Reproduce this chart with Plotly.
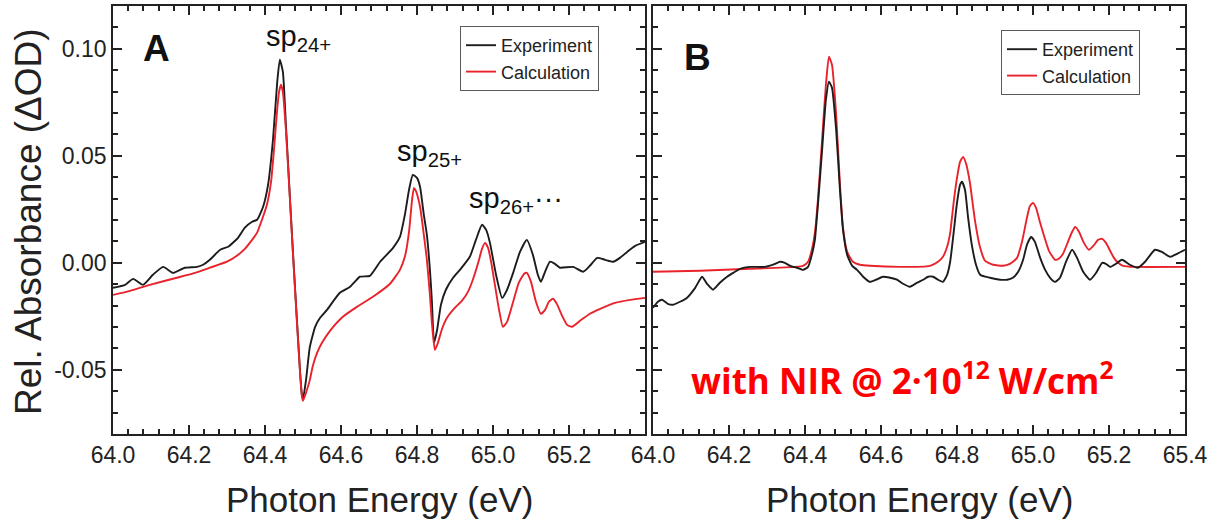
import plotly.graph_objects as go

W, H = 1213, 521
FONT = "Liberation Sans, Arial, sans-serif"
BLACK = "#1c1c1c"
RED = "#e8232b"
FRAME = "#222222"

# ---- Panel A: transient absorbance without NIR ----
energy_a_exp = [64.000, 64.032, 64.053, 64.079, 64.105, 64.132, 64.158, 64.189, 64.221, 64.237,
                64.255, 64.282, 64.303, 64.329, 64.347, 64.366, 64.379, 64.395, 64.408, 64.421,
                64.432, 64.439, 64.447, 64.455, 64.463, 64.474, 64.484, 64.492, 64.497, 64.500,
                64.508, 64.518, 64.532, 64.545, 64.563, 64.597, 64.624, 64.650, 64.676, 64.703,
                64.737, 64.755, 64.768, 64.779, 64.789, 64.800, 64.808, 64.818, 64.826, 64.834,
                64.839, 64.845, 64.853, 64.863, 64.876, 64.895, 64.913, 64.939, 64.955, 64.971,
                64.982, 64.992, 65.008, 65.024, 65.037, 65.053, 65.071, 65.089, 65.105, 65.118,
                65.126, 65.137, 65.150, 65.163, 65.176, 65.211, 65.237, 65.255, 65.274, 65.295,
                65.316, 65.334, 65.353, 65.374, 65.400]
dod_a_exp = [-0.0117, -0.0103, -0.0075, -0.0103, -0.0056, -0.0019, -0.0047, -0.0023, -0.0019, -0.0009,
             0.0014, 0.0061, 0.0075, 0.0117, 0.0164, 0.0192, 0.0201, 0.0262, 0.0364, 0.0575,
             0.0841, 0.0949, 0.0893, 0.0645, 0.0388, 0.0037, -0.0266, -0.0500, -0.0617, -0.0636,
             -0.0547, -0.0393, -0.0299, -0.0257, -0.0220, -0.0140, -0.0112, -0.0065, -0.0061, 0.0005,
             0.0070, 0.0121, 0.0224, 0.0341, 0.0411, 0.0397, 0.0355, 0.0224, 0.0131, -0.0033,
             -0.0173, -0.0374, -0.0313, -0.0196, -0.0126, -0.0070, -0.0033, 0.0028, 0.0107, 0.0178,
             0.0154, 0.0093, -0.0056, -0.0164, -0.0126, -0.0047, 0.0051, 0.0107, 0.0037, -0.0056,
             -0.0089, -0.0042, 0.0005, -0.0005, -0.0023, -0.0019, -0.0042, -0.0014, 0.0023, 0.0014,
             0.0005, 0.0023, 0.0051, 0.0079, 0.0098]

energy_a_calc = [64.000, 64.045, 64.097, 64.168, 64.216, 64.255, 64.300, 64.326, 64.347, 64.366,
                 64.379, 64.392, 64.405, 64.416, 64.424, 64.432, 64.437, 64.442, 64.447, 64.455,
                 64.463, 64.474, 64.484, 64.492, 64.497, 64.500, 64.508, 64.518, 64.526, 64.537,
                 64.550, 64.571, 64.605, 64.642, 64.684, 64.729, 64.755, 64.768, 64.779, 64.787,
                 64.792, 64.797, 64.808, 64.818, 64.826, 64.834, 64.839, 64.847, 64.855, 64.866,
                 64.879, 64.900, 64.918, 64.934, 64.947, 64.961, 64.971, 64.979, 64.987, 64.995,
                 65.005, 65.016, 65.026, 65.037, 65.053, 65.068, 65.082, 65.089, 65.100, 65.113,
                 65.126, 65.137, 65.147, 65.158, 65.168, 65.182, 65.195, 65.208, 65.229, 65.255,
                 65.282, 65.321, 65.361, 65.400]
dod_a_calc = [-0.0150, -0.0131, -0.0103, -0.0070, -0.0047, -0.0023, 0.0005, 0.0033, 0.0065, 0.0107,
              0.0140, 0.0201, 0.0271, 0.0379, 0.0537, 0.0715, 0.0799, 0.0832, 0.0799, 0.0621,
              0.0379, 0.0028, -0.0276, -0.0509, -0.0621, -0.0645, -0.0607, -0.0547, -0.0481, -0.0421,
              -0.0374, -0.0318, -0.0252, -0.0206, -0.0159, -0.0098, -0.0033, 0.0028, 0.0145, 0.0294,
              0.0350, 0.0336, 0.0262, 0.0131, 0.0014, -0.0150, -0.0276, -0.0407, -0.0374, -0.0308,
              -0.0257, -0.0210, -0.0178, -0.0136, -0.0079, 0.0000, 0.0065, 0.0093, 0.0070, 0.0005,
              -0.0103, -0.0220, -0.0299, -0.0276, -0.0182, -0.0093, -0.0051, -0.0047, -0.0089, -0.0182,
              -0.0238, -0.0220, -0.0182, -0.0168, -0.0192, -0.0248, -0.0290, -0.0299, -0.0271, -0.0238,
              -0.0215, -0.0187, -0.0173, -0.0164]

# ---- Panel B: transient absorbance with NIR ----
energy_b_exp = [64.000, 64.013, 64.024, 64.039, 64.053, 64.071, 64.089, 64.111, 64.129, 64.142,
                64.158, 64.176, 64.195, 64.211, 64.229, 64.255, 64.295, 64.321, 64.334, 64.347,
                64.361, 64.379, 64.395, 64.408, 64.418, 64.426, 64.434, 64.445, 64.455, 64.463,
                64.471, 64.482, 64.492, 64.500, 64.511, 64.524, 64.537, 64.553, 64.571, 64.587,
                64.605, 64.624, 64.642, 64.658, 64.676, 64.695, 64.711, 64.724, 64.737, 64.750,
                64.763, 64.774, 64.782, 64.792, 64.800, 64.808, 64.813, 64.821, 64.829, 64.839,
                64.850, 64.861, 64.874, 64.887, 64.913, 64.932, 64.947, 64.961, 64.974, 64.984,
                64.995, 65.005, 65.018, 65.032, 65.045, 65.058, 65.071, 65.087, 65.103, 65.116,
                65.132, 65.150, 65.166, 65.182, 65.192, 65.203, 65.218, 65.234, 65.255, 65.276,
                65.295, 65.321, 65.339, 65.361, 65.379, 65.400]
dod_b_exp = [-0.0210, -0.0182, -0.0173, -0.0192, -0.0196, -0.0182, -0.0164, -0.0117, -0.0065, -0.0098,
             -0.0126, -0.0093, -0.0065, -0.0047, -0.0028, -0.0019, -0.0019, -0.0005, 0.0005, 0.0000,
             -0.0014, -0.0023, -0.0033, -0.0019, 0.0037, 0.0107, 0.0271, 0.0528, 0.0762, 0.0846,
             0.0818, 0.0621, 0.0341, 0.0154, 0.0037, -0.0014, -0.0033, -0.0065, -0.0089, -0.0079,
             -0.0065, -0.0070, -0.0079, -0.0098, -0.0112, -0.0093, -0.0079, -0.0065, -0.0065, -0.0079,
             -0.0089, -0.0056, 0.0005, 0.0154, 0.0280, 0.0364, 0.0379, 0.0341, 0.0215, 0.0084,
             -0.0009, -0.0056, -0.0065, -0.0070, -0.0079, -0.0079, -0.0070, -0.0042, 0.0014, 0.0084,
             0.0121, 0.0098, 0.0028, -0.0033, -0.0070, -0.0089, -0.0070, 0.0005, 0.0061, 0.0023,
             -0.0042, -0.0079, -0.0047, 0.0000, -0.0005, -0.0019, -0.0005, 0.0014, -0.0009, -0.0023,
             0.0005, 0.0061, 0.0051, 0.0028, 0.0042, 0.0061]

energy_b_calc = [64.000, 64.124, 64.255, 64.374, 64.395, 64.408, 64.418, 64.426, 64.434, 64.445,
                 64.455, 64.463, 64.471, 64.482, 64.492, 64.500, 64.511, 64.526, 64.545, 64.571,
                 64.650, 64.729, 64.750, 64.763, 64.774, 64.782, 64.792, 64.800, 64.808, 64.816,
                 64.824, 64.834, 64.847, 64.861, 64.874, 64.895, 64.921, 64.939, 64.958, 64.971,
                 64.984, 64.992, 65.000, 65.008, 65.018, 65.029, 65.042, 65.058, 65.068, 65.079,
                 65.092, 65.103, 65.111, 65.121, 65.134, 65.147, 65.161, 65.171, 65.182, 65.192,
                 65.203, 65.213, 65.224, 65.237, 65.268, 65.400]
dod_b_calc = [-0.0042, -0.0037, -0.0028, -0.0019, -0.0014, 0.0005, 0.0061, 0.0140, 0.0294, 0.0575,
              0.0832, 0.0963, 0.0925, 0.0692, 0.0364, 0.0164, 0.0051, 0.0005, -0.0009, -0.0014,
              -0.0019, -0.0014, 0.0005, 0.0028, 0.0075, 0.0140, 0.0294, 0.0397, 0.0472, 0.0495,
              0.0463, 0.0374, 0.0201, 0.0070, 0.0009, -0.0009, -0.0014, -0.0005, 0.0023, 0.0098,
              0.0210, 0.0266, 0.0280, 0.0257, 0.0192, 0.0126, 0.0056, 0.0014, 0.0019, 0.0042,
              0.0098, 0.0145, 0.0168, 0.0145, 0.0093, 0.0061, 0.0084, 0.0107, 0.0112, 0.0093,
              0.0056, 0.0023, 0.0000, -0.0014, -0.0019, -0.0019]

# ---- axis ticks ----
energy_ticks = [64.0, 64.2, 64.4, 64.6, 64.8, 65.0, 65.2, 65.4]
energy_ticks_a = energy_ticks[:-1]  # panel B's 64.0 label sits at panel A's right edge
dod_ticks = [-0.05, 0.0, 0.05, 0.10]
energy_range = [64.0, 65.4]
dod_range = [-0.08, 0.12]

# plot-area bounds in pixels (left, right) for each panel, shared top/bottom
PANEL_A = (113, 645)
PANEL_B = (653, 1185)
TOP, BOTTOM = 6, 434


def xdom(p):
    return [p[0] / W, p[1] / W]


ydom = [1 - BOTTOM / H, 1 - TOP / H]

fig = go.Figure()


def line(color):
    return dict(color=color, width=1.9, shape="spline", smoothing=0.5)


fig.add_trace(go.Scatter(x=energy_a_exp, y=dod_a_exp, mode="lines", name="Experiment",
                         line=line(BLACK), xaxis="x", yaxis="y", legend="legend", legendrank=1))
fig.add_trace(go.Scatter(x=energy_a_calc, y=dod_a_calc, mode="lines", name="Calculation",
                         line=line(RED), xaxis="x", yaxis="y", legend="legend", legendrank=2))
fig.add_trace(go.Scatter(x=energy_b_calc, y=dod_b_calc, mode="lines", name="Calculation",
                         line=line(RED), xaxis="x2", yaxis="y2", legend="legend2", legendrank=2))
fig.add_trace(go.Scatter(x=energy_b_exp, y=dod_b_exp, mode="lines", name="Experiment",
                         line=line(BLACK), xaxis="x2", yaxis="y2", legend="legend2", legendrank=1))

tick_font = dict(family=FONT, size=23, color="#222")
frame = dict(showline=True, linecolor=FRAME, linewidth=1.6, mirror="ticks",
             ticks="inside", ticklen=9, tickwidth=2, tickcolor=FRAME,
             showgrid=False, zeroline=False, automargin=False, tickfont=tick_font)
x_minor = dict(dtick=0.04, ticks="inside", ticklen=5, tickwidth=1.6, tickcolor=FRAME)
y_minor = dict(dtick=0.01, ticks="inside", ticklen=5, tickwidth=1.6, tickcolor=FRAME)

energy_labels_a = [f"{v:.1f}" for v in energy_ticks_a]
energy_labels = [f"{v:.1f}" for v in energy_ticks]
dod_labels = [f"{v:.2f}" for v in dod_ticks]

fig.update_layout(
    xaxis=dict(frame, domain=xdom(PANEL_A), range=energy_range, anchor="y",
               tickvals=energy_ticks_a, ticktext=energy_labels_a, minor=x_minor),
    yaxis=dict(frame, domain=ydom, range=dod_range, anchor="x",
               tickvals=dod_ticks, ticktext=dod_labels, minor=y_minor),
    xaxis2=dict(frame, domain=xdom(PANEL_B), range=energy_range, anchor="y2",
                tickvals=energy_ticks, ticktext=energy_labels, minor=x_minor),
    yaxis2=dict(frame, domain=ydom, range=dod_range, anchor="x2",
                tickvals=dod_ticks, showticklabels=False, minor=y_minor),
)

legend_style = dict(xanchor="left", yanchor="top", bgcolor="white", bordercolor="#5a5a5a",
                    borderwidth=1, tracegroupgap=0,
                    font=dict(family=FONT, size=18, color="#222"))
fig.update_layout(
    legend=dict(legend_style, x=460 / W, y=1 - 26 / H),
    legend2=dict(legend_style, x=1001 / W, y=1 - 30 / H),
)

annotations = [
    # axis titles
    dict(text="Rel. Absorbance (ΔOD)", x=28 / W, y=1 - 222 / H, xref="paper", yref="paper",
         textangle=-90, showarrow=False, xanchor="center", yanchor="middle",
         font=dict(family=FONT, size=37, color="#222")),
    dict(text="Photon Energy (eV)", x=sum(PANEL_A) / 2 / W, y=1 - 499 / H, xref="paper", yref="paper",
         showarrow=False, xanchor="center", yanchor="middle",
         font=dict(family=FONT, size=35, color="#222")),
    dict(text="Photon Energy (eV)", x=sum(PANEL_B) / 2 / W, y=1 - 499 / H, xref="paper", yref="paper",
         showarrow=False, xanchor="center", yanchor="middle",
         font=dict(family=FONT, size=35, color="#222")),
    # panel letters
    dict(text="<b>A</b>", x=156 / W, y=1 - 49 / H, xref="paper", yref="paper", showarrow=False,
         xanchor="center", yanchor="middle", font=dict(family=FONT, size=37, color="#111")),
    dict(text="<b>B</b>", x=697 / W, y=1 - 57 / H, xref="paper", yref="paper", showarrow=False,
         xanchor="center", yanchor="middle", font=dict(family=FONT, size=37, color="#111")),
    # peak assignments
    dict(text="sp<sub>24+</sub>", x=64.489, y=0.1049, xref="x", yref="y", showarrow=False,
         xanchor="center", yanchor="middle", font=dict(family=FONT, size=29, color="#111")),
    dict(text="sp<sub>25+</sub>", x=64.834, y=0.0514, xref="x", yref="y", showarrow=False,
         xanchor="center", yanchor="middle", font=dict(family=FONT, size=29, color="#111")),
    dict(text="sp<sub>26+</sub>···", x=65.061, y=0.0294, xref="x", yref="y", showarrow=False,
         xanchor="center", yanchor="middle", font=dict(family=FONT, size=29, color="#111")),
    # NIR condition
    dict(text="<b>with NIR @ 2·10<sup>12</sup> W/cm<sup>2</sup></b>", x=902 / W, y=1 - 378 / H,
         xref="paper", yref="paper", showarrow=False, xanchor="center", yanchor="middle",
         font=dict(family="Open Sans, sans-serif", size=35, color="#ff0000")),
]

fig.update_layout(
    width=W, height=H, margin=dict(l=0, r=0, t=0, b=0),
    paper_bgcolor="white", plot_bgcolor="white", showlegend=True,
    annotations=annotations,
)

fig.write_html("out.html")
